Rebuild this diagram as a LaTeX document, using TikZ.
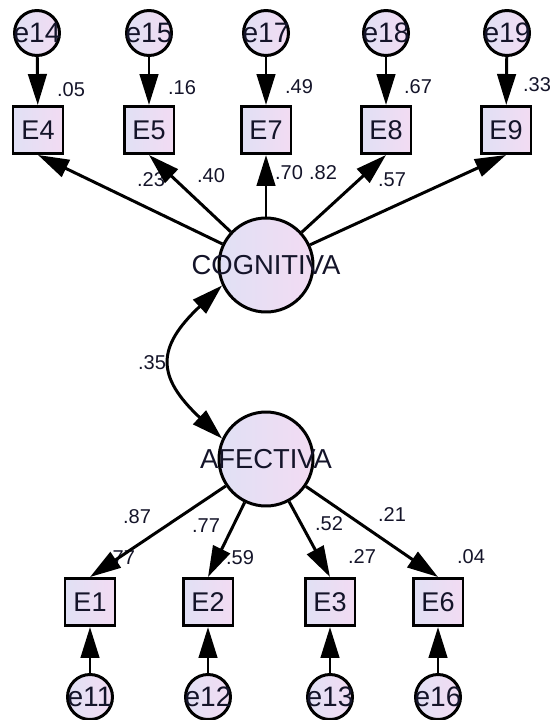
\documentclass[tikz,border=0pt]{standalone}
\usepackage{fontspec}
\setmainfont{Liberation Sans}
\usepackage{xcolor}
\usepackage{tikz}
\usetikzlibrary{shapes,arrows.meta}
\definecolor{lavl}{rgb}{0.88, 0.88, 0.96}
\definecolor{lavr}{rgb}{0.95, 0.86, 0.95}
\definecolor{ink}{rgb}{0.08, 0.08, 0.16}
\tikzstyle{latent}=[circle,draw,line width=1.7pt,inner sep=0pt,minimum size=1.88cm,left color=lavl,right color=lavr,text=ink,font=\fontsize{15.6}{18}\selectfont]
\tikzstyle{obs}=[rectangle,draw,line width=1.7pt,inner sep=0pt,minimum width=1cm,minimum height=0.94cm,left color=lavl,right color=lavr,text=ink,font=\fontsize{15.4}{18}\selectfont]
\tikzstyle{err}=[circle,draw,line width=1.7pt,inner sep=0pt,minimum size=0.9cm,left color=lavl,right color=lavr,text=ink,font=\fontsize{16}{18}\selectfont]
\tikzstyle{coef}=[inner sep=0pt,text=ink,font=\fontsize{11.4}{13}\selectfont]
\tikzstyle{load}=[->,line width=1.7pt]
\tikzset{>={Triangle[length=0.62cm,width=0.37cm]}}

\begin{document}
\begin{tikzpicture}[x=0.02cm,y=-0.02cm]
\useasboundingbox (0,0) rectangle (555,720);
% factors
\node[latent] (cog) at (266,265) {\makebox[0pt]{COGNITIVA}};
\node[latent] (aff) at (266,459) {\makebox[0pt]{AFECTIVA}};
% items
\node[obs] (E4) at (38,130) {E4};
\node[obs] (E5) at (149,130) {E5};
\node[obs] (E7) at (266,130) {E7};
\node[obs] (E8) at (386,130) {E8};
\node[obs] (E9) at (506,130) {E9};
\node[obs] (E1) at (90,602) {E1};
\node[obs] (E2) at (208,602) {E2};
\node[obs] (E3) at (330,602) {E3};
\node[obs] (E6) at (438,602) {E6};
% errors
\node[err] (e14) at (37,33) {\makebox[0pt]{e14}};
\node[err] (e15) at (149,33) {\makebox[0pt]{e15}};
\node[err] (e17) at (266,33) {\makebox[0pt]{e17}};
\node[err] (e18) at (386,33) {\makebox[0pt]{e18}};
\node[err] (e19) at (507,33) {\makebox[0pt]{e19}};
\node[err] (e11) at (90,697) {\makebox[0pt]{e11}};
\node[err] (e12) at (208,697) {\makebox[0pt]{e12}};
\node[err] (e13) at (330,697) {\makebox[0pt]{e13}};
\node[err] (e16) at (438,697) {\makebox[0pt]{e16}};
% estimates
\node[coef] (r4) at (71,90) {.05};
\node[coef] (r5) at (182,88) {.16};
\node[coef] (r7) at (299,87) {.49};
\node[coef] (r8) at (418,87) {.67};
\node[coef] (r9) at (537,85) {.33};
\node[coef] (l4) at (151,180) {.23};
\node[coef] (l5) at (211,176) {.40};
\node[coef] (l7) at (289,173) {.70};
\node[coef] (l8) at (323,173) {.82};
\node[coef] (l9) at (392,180) {.57};
\node[coef] (rr) at (152,363) {.35};
\node[coef] (l1) at (137,517) {.87};
\node[coef] (l2) at (206,526) {.77};
\node[coef] (l3) at (329,524) {.52};
\node[coef] (l6) at (392,515) {.21};
\node[coef] (r1) at (121,558) {.77};
\node[coef] (r2) at (240,558) {.59};
\node[coef] (r3) at (362,557) {.27};
\node[coef] (r6) at (471,557) {.04};
% paths
\draw[load] (e14) -- (E4);
\draw[load] (e15) -- (E5);
\draw[load] (e17) -- (E7);
\draw[load] (e18) -- (E8);
\draw[load] (e19) -- (E9);
\draw[load] (cog) -- (E4.south);
\draw[load] (cog) -- (E5.south);
\draw[load] (cog) -- (E7.south);
\draw[load] (cog) -- (E8.south);
\draw[load] (cog) -- (E9.south);
\draw[load] (aff) -- (E1.north);
\draw[load] (aff) -- (E2.north);
\draw[load] (aff) -- (E3.north);
\draw[load] (aff) -- (E6.north);
\draw[load] (e11) -- (E1);
\draw[load] (e12) -- (E2);
\draw[load] (e13) -- (E3);
\draw[load] (e16) -- (E6);
\draw[<->,line width=1.7pt] (cog.205) .. controls +(-66,62) and +(-66,-62) .. (aff.155);
\end{tikzpicture}
\end{document}
